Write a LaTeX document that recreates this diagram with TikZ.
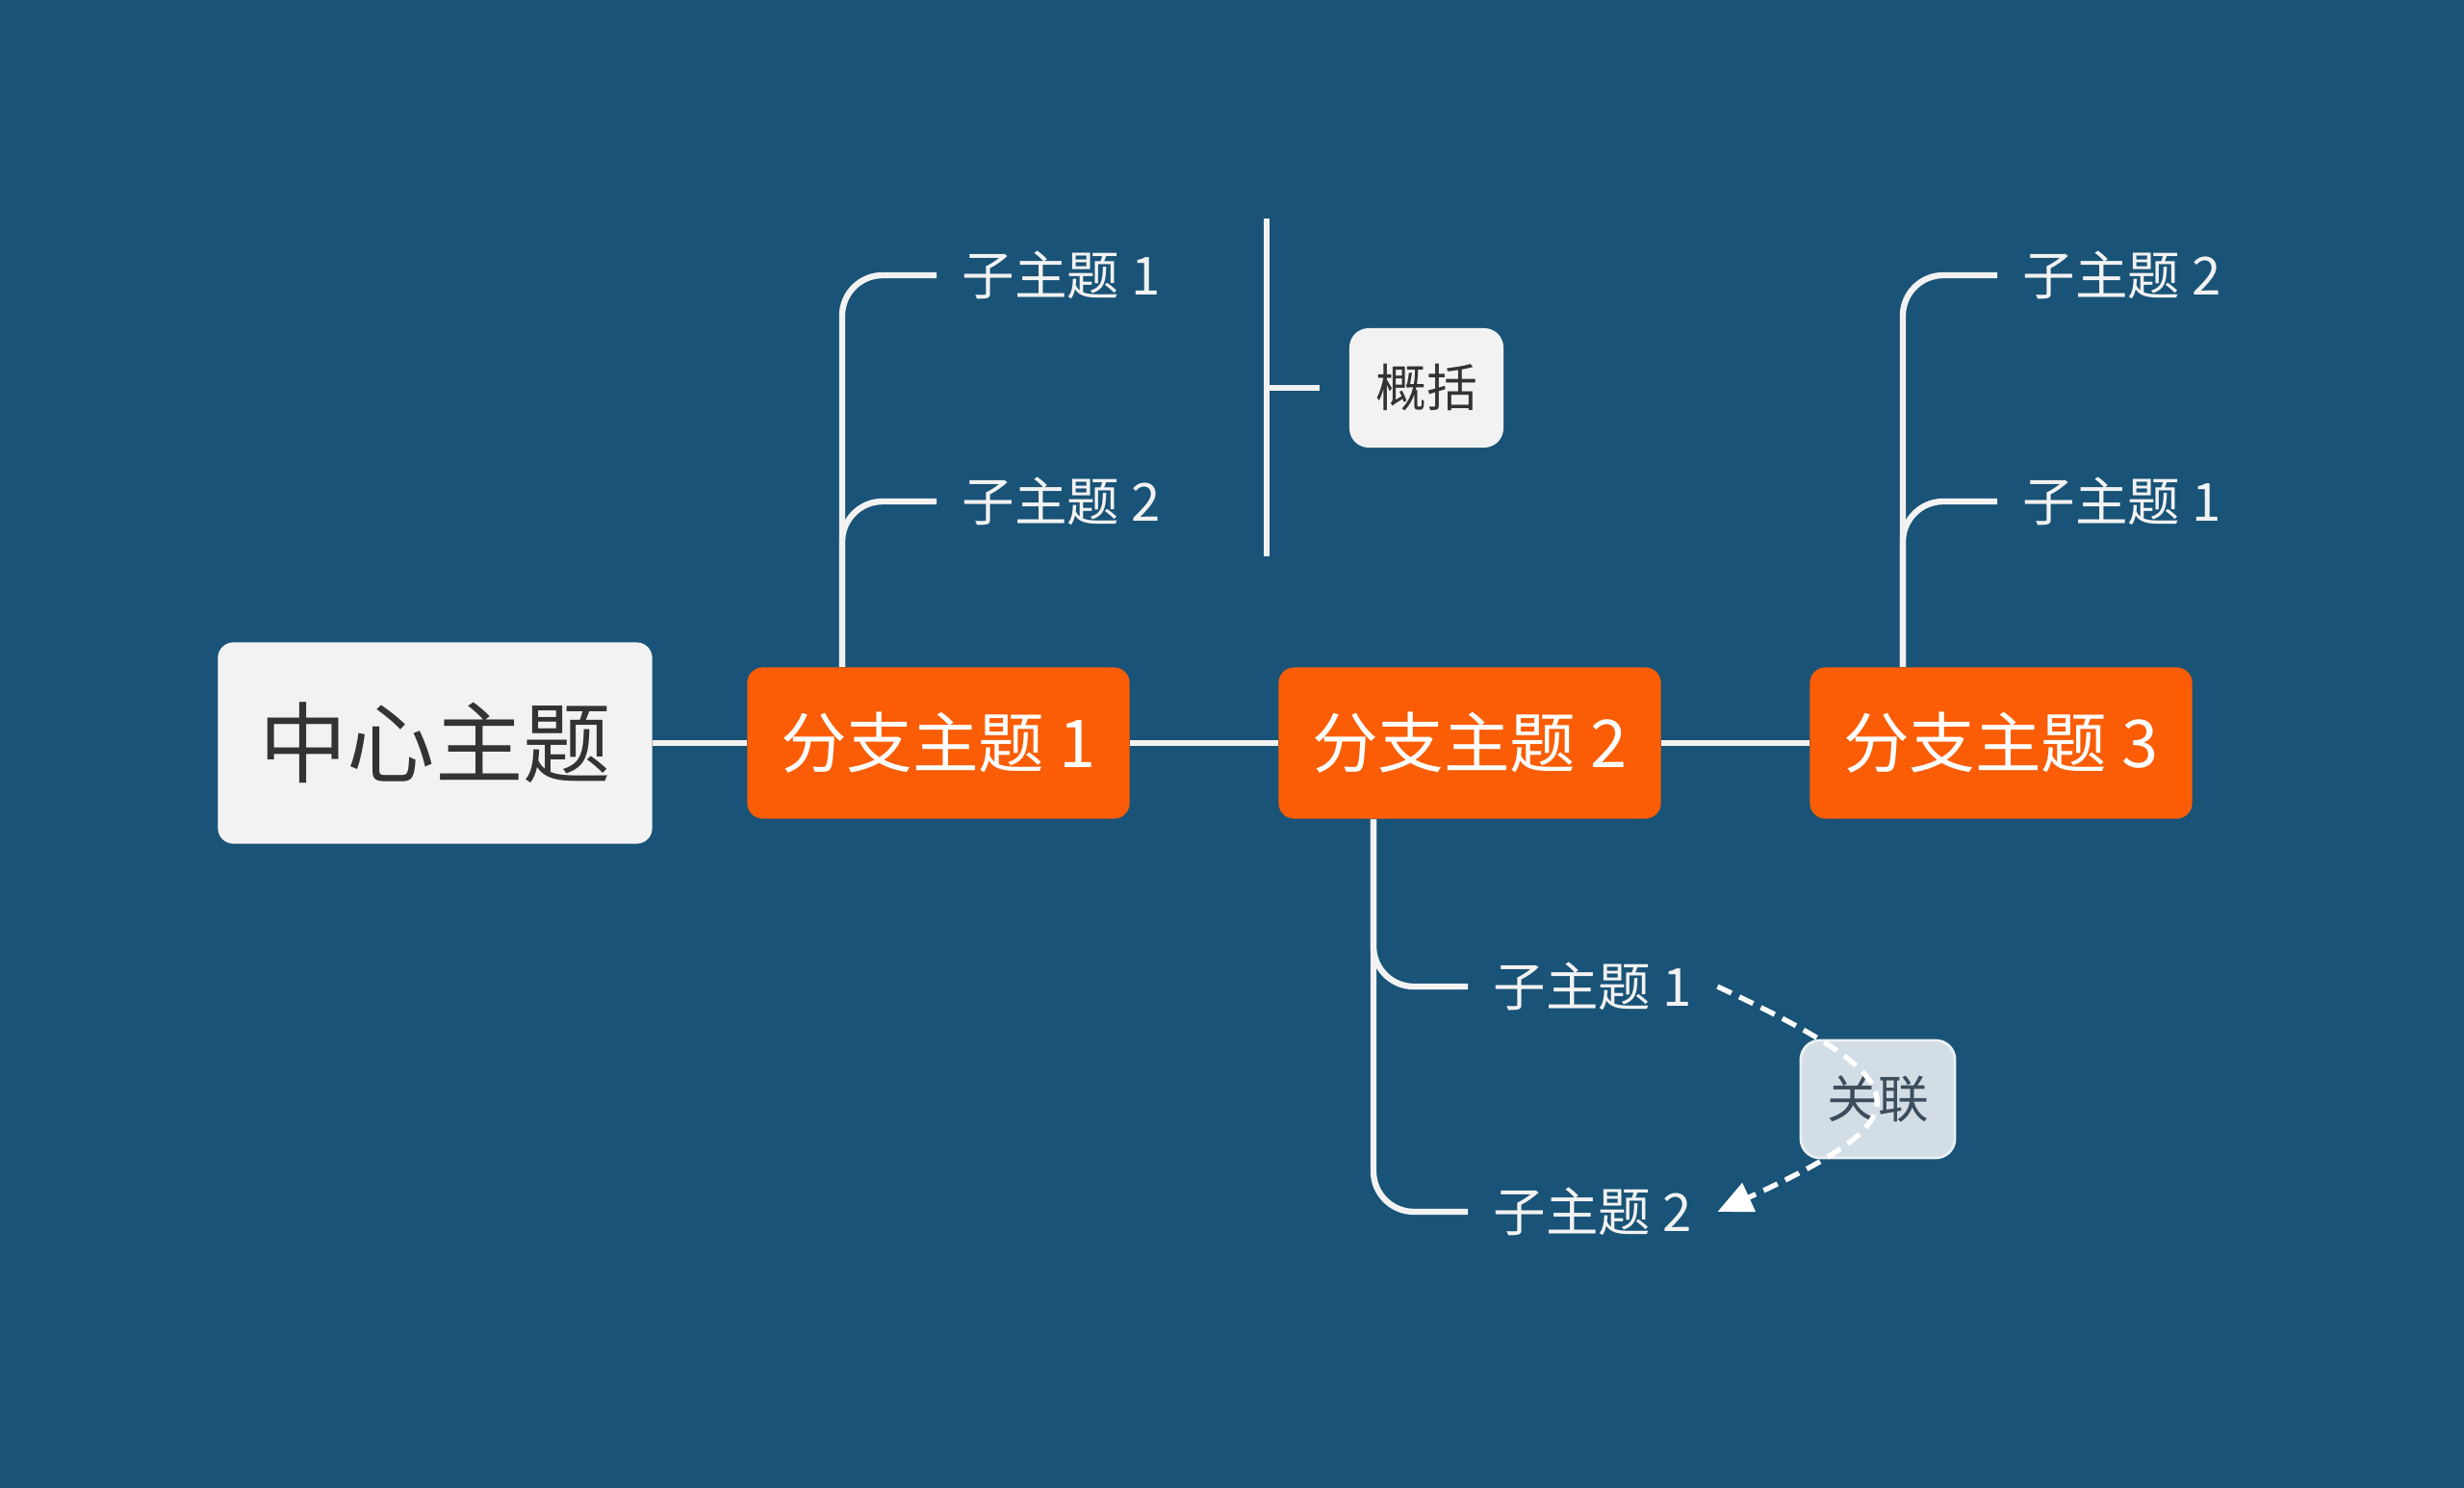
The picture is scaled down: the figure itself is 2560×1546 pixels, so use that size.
\documentclass[tikz,border=0pt]{standalone}
\usepackage{fontspec}
\setmainfont{Noto Sans CJK SC}
\usetikzlibrary{arrows.meta}
\definecolor{bgblue}{HTML}{195377}
\definecolor{branchorange}{HTML}{FA5D05}
\definecolor{boxgrey}{HTML}{F2F2F2}
\definecolor{textgrey}{HTML}{333333}
\definecolor{relfill}{HTML}{D2DDE6}
\definecolor{reledge}{HTML}{EAF0F4}
\definecolor{reltext}{HTML}{3E4D5C}
\definecolor{linewhite}{HTML}{F2F2F2}
\tikzset{
	mainbox/.style={fill=boxgrey, rounded corners=0.16cm, minimum width=4.51cm, minimum height=2.09cm, text=textgrey, font=\fontsize{26}{30}\selectfont},
	branchbox/.style={fill=branchorange, rounded corners=0.16cm, minimum width=3.97cm, minimum height=1.57cm, text=white, font=\fontsize{19.5}{23}\selectfont},
	subtext/.style={anchor=west, inner xsep=0.26cm, inner ysep=0.1cm, text=linewhite, font=\fontsize{15.5}{18}\selectfont},
	sumbox/.style={fill=boxgrey, rounded corners=0.2cm, minimum width=1.6cm, minimum height=1.24cm, outer xsep=0.31cm, text=textgrey, font=\fontsize{15}{18}\selectfont},
	relbox/.style={fill=relfill, draw=reledge, line width=0.8pt, rounded corners=0.2cm, minimum width=1.6cm, minimum height=1.22cm, text=reltext, font=\fontsize{15}{18}\selectfont},
	conn/.style={draw=linewhite, line width=1.8pt, rounded corners=0.42cm},
	relarrow/.style={draw=white, line width=1.5pt, dash pattern=on 0.16cm off 0.09cm, -{Triangle[width=0.32cm, length=0.36cm, fill=white]}}
}
\begin{document}
\begin{tikzpicture}[x=0.01cm, y=-0.01cm]
			%%%%% START %%%%%
			
			\fill[bgblue] (0, 0) rectangle (2560, 1546);
			
			\node[mainbox] (main) at (452, 772) {中心主题};
			\node[branchbox] (b1) at (975, 772) {分支主题 1};
			\node[branchbox] (b2) at (1527, 772) {分支主题 2};
			\node[branchbox] (b3) at (2079, 772) {分支主题 3};
			
			\draw[conn] (main.east) -- (b1.west);
			\draw[conn] (b1.east) -- (b2.west);
			\draw[conn] (b2.east) -- (b3.west);
			
			\node[subtext] (s11) at (973, 286) {子主题 1};
			\node[subtext] (s12) at (973, 521) {子主题 2};
			\draw[conn] ([xshift=-1cm]b1.north) |- (s11.west);
			\draw[conn] ([xshift=-1cm]b1.north) |- (s12.west);
			
			\node[subtext] (s32) at (2075, 286) {子主题 2};
			\node[subtext] (s31) at (2075, 521) {子主题 1};
			\draw[conn] ([xshift=-1.02cm]b3.north) |- (s32.west);
			\draw[conn] ([xshift=-1.02cm]b3.north) |- (s31.west);
			
			\node[subtext] (s21) at (1525, 1025) {子主题 1};
			\node[subtext] (s22) at (1525, 1259) {子主题 2};
			\draw[conn] ([xshift=-1cm]b2.south) |- (s21.west);
			\draw[conn] ([xshift=-1cm]b2.south) |- (s22.west);
			
			% summary
			\node[sumbox] (sum) at (1482, 403) {概括};
			\coordinate (brace) at (1316, 403);
			\draw[conn] (1316, 227) -- (1316, 578);
			\draw[conn] (brace) -- (sum.west);
			
			% relation
			\node[relbox] (rel) at (1951, 1142) {关联};
			\draw[relarrow] (s21.east) .. controls (2000, 1126) and (2000, 1160) .. (s22.east);
			
			%%%%% END %%%%%
\end{tikzpicture}
\end{document}
